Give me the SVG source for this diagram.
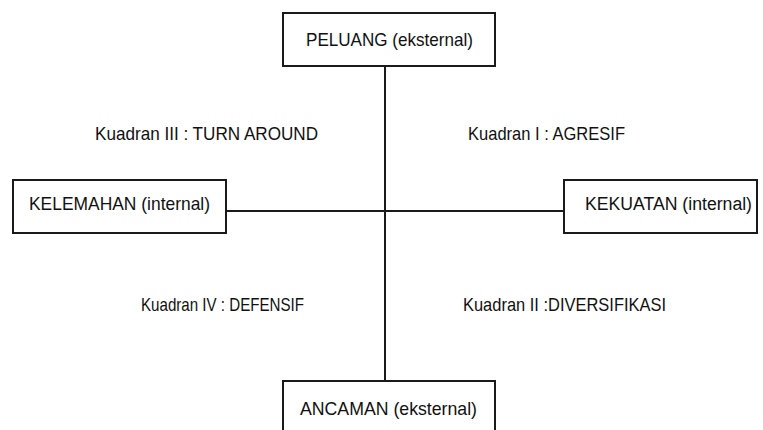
<svg xmlns="http://www.w3.org/2000/svg" width="763" height="430" viewBox="0 0 763 430">
<style>
.box{fill:#ffffff;stroke:#1a1a1a;stroke-width:2}
.ln{stroke:#1a1a1a;stroke-width:2;fill:none}
text{font-family:"Liberation Sans",Arial,sans-serif;font-size:19px;fill:#111111}
.sm{font-size:18px}
</style>
<rect width="763" height="430" fill="#ffffff"/>
<g id="connectors">
<line class="ln" x1="385" y1="66" x2="385" y2="381"/>
<line class="ln" x1="226" y1="211" x2="564" y2="211"/>
</g>
<g id="peluang">
<rect class="box" x="283" y="13" width="212" height="53"/>
<text x="306" y="46" textLength="167" lengthAdjust="spacingAndGlyphs">PELUANG (eksternal)</text>
</g>
<g id="kelemahan">
<rect class="box" x="13" y="180" width="213" height="53"/>
<text x="29" y="210" textLength="181" lengthAdjust="spacingAndGlyphs">KELEMAHAN (internal)</text>
</g>
<g id="kekuatan">
<rect class="box" x="564" y="180" width="193" height="53"/>
<text class="sm" x="585" y="210" textLength="167" lengthAdjust="spacingAndGlyphs">KEKUATAN (internal)</text>
</g>
<g id="ancaman">
<rect class="box" x="283" y="381" width="212" height="60"/>
<text x="300" y="415" textLength="177" lengthAdjust="spacingAndGlyphs">ANCAMAN (eksternal)</text>
</g>
<g id="labels">
<text x="95" y="140" textLength="223" lengthAdjust="spacingAndGlyphs">Kuadran III : TURN AROUND</text>
<text x="468" y="140" textLength="157" lengthAdjust="spacingAndGlyphs">Kuadran I : AGRESIF</text>
<text x="141" y="311" textLength="163" lengthAdjust="spacingAndGlyphs">Kuadran IV : DEFENSIF</text>
<text x="463" y="311" textLength="203" lengthAdjust="spacingAndGlyphs">Kuadran II :DIVERSIFIKASI</text>
</g>
</svg>
